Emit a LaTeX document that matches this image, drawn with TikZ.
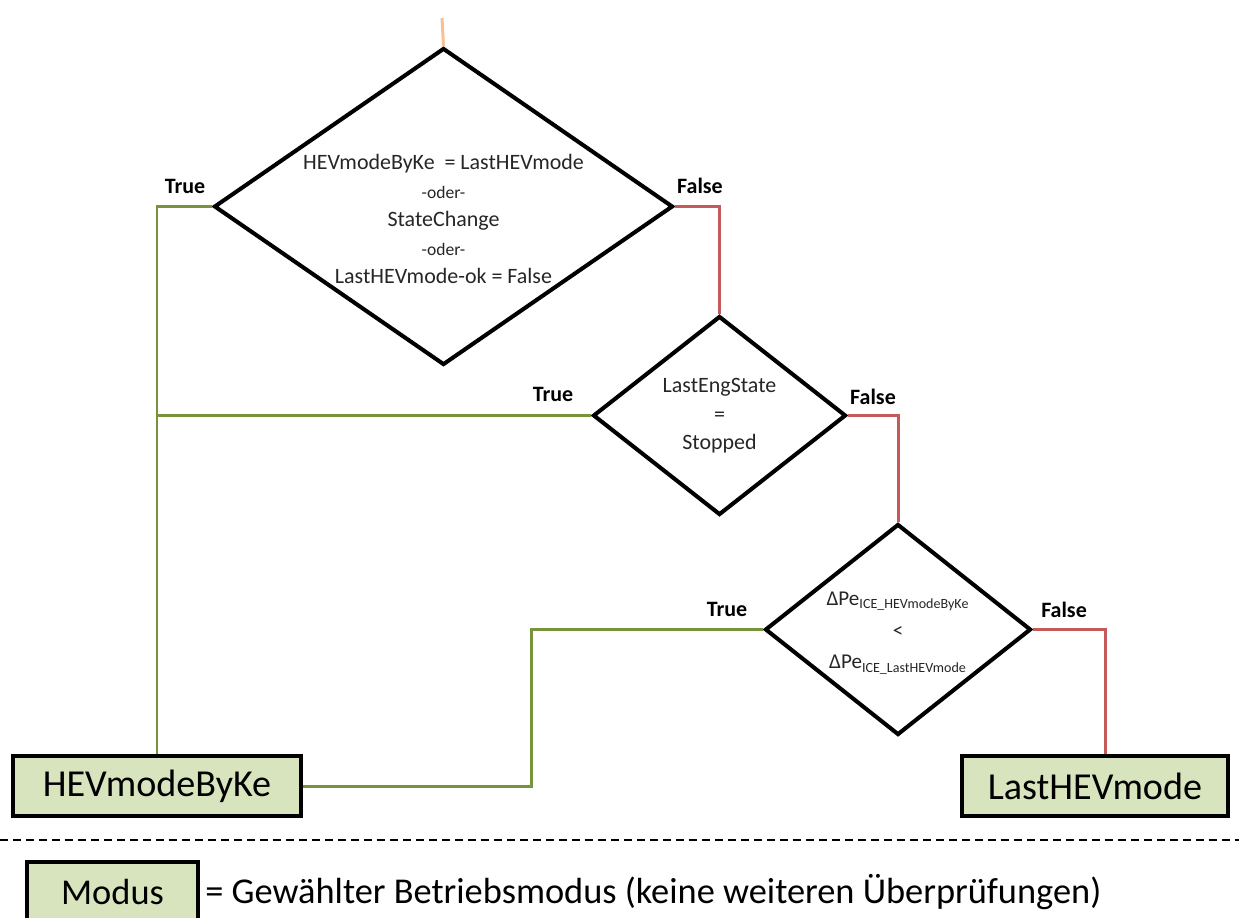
\documentclass[tikz,border=0pt]{standalone}
\usepackage{fontspec}
\setmainfont{Carlito}
\usetikzlibrary{shapes.geometric}
\definecolor{flowgreen}{HTML}{77933C}
\definecolor{flowred}{HTML}{C55A5A}
\definecolor{startline}{HTML}{FAC090}
\definecolor{modefill}{HTML}{D7E4BD}
\definecolor{condtext}{HTML}{262626}
\begin{document}
\begin{tikzpicture}[x=0.02cm,y=-0.02cm,
  decision/.style={diamond, draw=black, line width=2.3pt, inner sep=0pt},
  condition/.style={align=center, text=condtext, font=\fontsize{12.5}{16.2}\selectfont},
  modebox/.style={draw=black, line width=2.3pt, fill=modefill, inner sep=0pt,
    minimum height=1.2cm, font=\fontsize{21.7}{26}\selectfont},
  yesline/.style={flowgreen, line width=1.7pt},
  noline/.style={flowred, line width=1.7pt},
  branchlabel/.style={font=\bfseries\fontsize{12.5}{15}\selectfont, inner sep=0pt}]
\useasboundingbox (0,0) rectangle (1239,918);

% decisions
\node[decision, minimum width=9.18cm, minimum height=6.34cm] (d1) at (443.5,206.5) {};
\node[condition] (d1text) at (443.5,219) {HEVmodeByKe \ = LastHEVmode\\
  {\fontsize{10}{16.2}\selectfont -oder-}\\
  StateChange\\
  {\fontsize{10}{16.2}\selectfont -oder-}\\
  LastHEVmode-ok = False};

\node[decision, minimum width=5.06cm, minimum height=3.98cm] (d2) at (719.5,415.5) {};
\node[condition] (d2text) at (719.5,416) {LastEngState\\=\\Stopped};

\node[decision, minimum width=5.32cm, minimum height=4.22cm] (d3) at (898,629.5) {};
\node[condition, font=\fontsize{12}{18}\selectfont] (d3text) at (898,633)
  {ΔPe\textsubscript{ICE\_HEVmodeByKe}\\<\\ΔPe\textsubscript{ICE\_LastHEVmode}};

% resulting modes
\node[modebox, minimum width=5.78cm] (hev) at (157,786) {HEVmodeByKe};
\node[modebox, minimum width=5.32cm] (last) at (1095,786) {LastHEVmode};

% connectors
\coordinate (entry) at (442,18);
\draw[startline, line width=1.7pt] (entry) -- (d1.north);
\draw[yesline] (d1.west) -| (hev.north);
\draw[yesline] (d2.west) -- (d2.west -| hev.north);
\draw[noline] (d1.east) -| (d2.north);
\draw[noline] (d2.east) -| (d3.north);
\draw[yesline] (d3.west) -- ++(-232,0) |- (hev.east);
\draw[noline] (d3.east) -| ([xshift=0.2cm]last.north);

% branch labels
\node[branchlabel] (t1) at (185,186) {True};
\node[branchlabel] (f1) at (700,186) {False};
\node[branchlabel] (t2) at (553,394) {True};
\node[branchlabel] (f2) at (873,397) {False};
\node[branchlabel] (t3) at (727,609) {True};
\node[branchlabel] (f3) at (1064,610) {False};

% legend
\coordinate (sepl) at (0,840);
\coordinate (sepr) at (1239,840);
\draw[line width=1.1pt, dash pattern=on 0.16cm off 0.1cm] (sepl) -- (sepr);
\node[modebox, minimum width=3.42cm, minimum height=1.2cm, font=\fontsize{20.7}{25}\selectfont]
  (legbox) at (112.5,892) {Modus};
\node[anchor=west, inner sep=0pt, font=\fontsize{20.7}{25}\selectfont] (legtext) at (205,892)
  {= Gewählter Betriebsmodus (keine weiteren Überprüfungen)};
\end{tikzpicture}
\end{document}
